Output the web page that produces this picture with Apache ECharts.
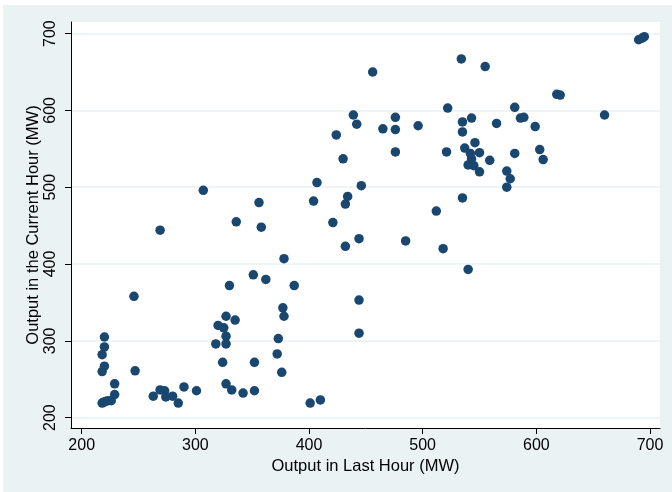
<!DOCTYPE html>
<html>
<head>
<meta charset="utf-8">
<script src="https://cdn.jsdelivr.net/npm/echarts@6/dist/echarts.min.js"></script>
<style>
  html, body { margin: 0; padding: 0; background: #fff; }
  #chart { position: absolute; left: 3px; top: 5px; width: 669px; height: 487px; background: #eaf2f3; }
</style>
</head>
<body>
<div id="chart"></div>
<script>
// tick labels
var xTicks = [200, 300, 400, 500, 600, 700];
var yTicks = [200, 300, 400, 500, 600, 700];

// output in last hour (MW), one per point
var lastHour = [
  690, 693, 695, 534, 555, 456, 618, 621, 522, 581, 660, 439, 476, 543, 535, 586, 589,
  442, 565, 496, 599, 465, 476, 535, 424, 546, 537, 603, 476, 521, 550, 581, 542, 430,
  543, 559, 606, 540, 545, 550, 574, 577, 574, 407, 446, 307, 434, 535, 404, 356, 432,
  512, 336, 421, 358, 269, 444, 485, 432, 518, 378, 540, 351, 362, 330, 387, 246, 444,
  377, 378, 327, 335, 320, 325, 327, 373, 220, 444, 318, 327, 220, 218, 372, 324, 352,
  220, 218, 247, 376, 229, 327, 290, 332, 301, 352, 269, 273, 342, 229, 263, 274, 280,
  226, 285, 410, 401, 218, 219, 221, 223
];
// output in the current hour (MW), same order
var currentHour = [
  692, 694, 696, 667, 657, 650, 621, 620, 603, 604, 594, 594, 591, 590, 585, 590, 591,
  582, 583, 580, 579, 576, 575, 572, 568, 558, 551, 549, 546, 546, 545, 544, 544, 537,
  537, 535, 536, 529, 528, 520, 521, 511, 500, 506, 502, 496, 488, 486, 482, 480, 478,
  469, 455, 454, 448, 444, 433, 430, 423, 420, 407, 393, 386, 380, 372, 372, 358, 353,
  343, 332, 332, 327, 320, 317, 306, 303, 305, 310, 296, 296, 292, 282, 283, 272, 272,
  267, 260, 261, 259, 244, 244, 240, 236, 235, 235, 236, 235, 232, 230, 228, 227, 228,
  222, 219, 223, 219, 219, 220, 221, 222
];

var points = lastHour.map(function (x, i) { return [x, currentHour[i]]; });

var chart = echarts.init(document.getElementById('chart'));
var font = 'Liberation Sans, Arial, Helvetica, sans-serif';
chart.setOption({
  animation: false,
  grid: {
    show: true,
    left: 68,
    right: 12,
    top: 17,
    bottom: 64,
    backgroundColor: '#fff',
    borderWidth: 0
  },
  xAxis: {
    type: 'value',
    min: 190.6,
    max: 708.8,
    name: 'Output in Last Hour (MW)',
    nameLocation: 'middle',
    nameGap: 30,
    nameMoveOverlap: false,
    nameTextStyle: { fontFamily: font, fontSize: 16.5, color: '#000' },
    axisLine: { show: true, onZero: false, lineStyle: { color: '#000', width: 1 } },
    axisTick: { show: true, length: 6, customValues: xTicks, lineStyle: { color: '#000' } },
    axisLabel: { customValues: xTicks, margin: 10, fontFamily: font, fontSize: 16, color: '#000' },
    splitLine: { show: false }
  },
  yAxis: {
    type: 'value',
    min: 186.5,
    max: 715.1,
    name: 'Output in the Current Hour (MW)',
    nameLocation: 'middle',
    nameGap: 29,
    nameMoveOverlap: false,
    nameTextStyle: { fontFamily: font, fontSize: 16.5, color: '#000' },
    axisLine: { show: true, onZero: false, lineStyle: { color: '#000', width: 1 } },
    axisTick: { show: true, length: 6, customValues: yTicks, lineStyle: { color: '#000' } },
    axisLabel: { customValues: yTicks, rotate: 90, margin: 12, fontFamily: font, fontSize: 16, color: '#000' },
    splitLine: { show: true, lineStyle: { color: '#eaf2f3', width: 1.5 } }
  },
  series: [{
    type: 'scatter',
    data: points,
    symbol: 'circle',
    symbolSize: 9.5,
    itemStyle: { color: '#1a476f', opacity: 1 }
  }]
});
</script>
</body>
</html>
